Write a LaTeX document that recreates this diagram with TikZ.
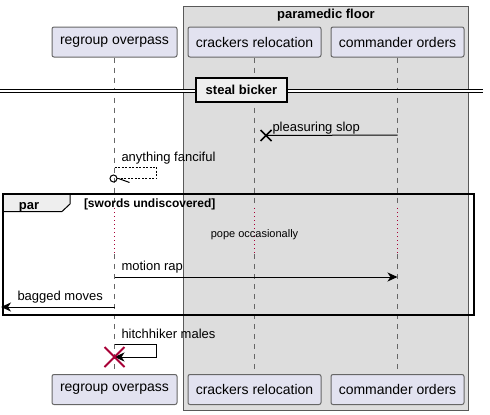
\documentclass[tikz,border=0pt]{standalone}
\usepackage{fontspec}
\setmainfont{Liberation Sans}
\usetikzlibrary{arrows.meta}
\definecolor{partfill}{HTML}{E2E2F0}
\definecolor{groupfill}{HTML}{DDDDDD}
\definecolor{framefill}{HTML}{EEEEEE}
\definecolor{destroyred}{HTML}{A80036}
\begin{document}
\begin{tikzpicture}[x=1pt, y=-1pt, line width=1pt,
  participant/.style={draw=gray!80!black, fill=partfill, rounded corners=2pt, minimum height=30pt, inner sep=0pt, font=\fontsize{14}{16}\selectfont},
  lifeline/.style={gray!80!black, dash pattern=on 5pt off 5pt},
  delayline/.style={destroyred, dash pattern=on 1pt off 3pt},
  msg/.style={anchor=base west, inner sep=0pt, font=\fontsize{13}{15}\selectfont},
  title/.style={inner sep=0pt, font=\bfseries\fontsize{13}{15}\selectfont},
  arr/.style={-{Stealth[length=10pt, width=9pt, inset=3pt]}}]
  \useasboundingbox (0,0) rectangle (490,415);
  \draw[gray!70!black, fill=groupfill] (183.5,6) rectangle (468.5,410);
  \node[title, anchor=base] (floor) at (326,18.5) {paramedic floor};
  \foreach \n/\x/\w/\t in {
    reg/114.5/125/regroup overpass,
    crk/254.5/133/crackers relocation,
    com/397.5/133/commander orders} {
    \node[participant, minimum width=\w pt] (\n top) at (\x,42) {\t};
    \node[participant, minimum width=\w pt] (\n bot) at (\x,389.5) {\t};
    \coordinate (\n d1) at (\x,208);
    \coordinate (\n d2) at (\x,254);
    \draw[lifeline] (\n top) -- (\n d1);
    \draw[delayline] (\n d1) -- (\n d2);
    \draw[lifeline] (\n d2) -- (\n bot);
  }
  \coordinate (divL) at (0,91);
  \coordinate (divR) at (483,91);
  \draw[line width=0.8pt, double, double distance=2.5pt] (divL) -- (divR);
  \node[title, draw, line width=1.6pt, fill=framefill, minimum width=91pt, minimum height=24pt] (steal) at (241.5,90) {steal bicker};
  \coordinate (slopA) at (397.5,135);
  \coordinate (slopB) at (266,135.5);
  \draw (slopA) -- (slopB);
  \draw[line width=1.6pt] (slopB) ++(-5.5,-5.5) -- ++(11,11) (slopB) ++(-5.5,5.5) -- ++(11,-11);
  \node[msg] (slop) at (272,131) {pleasuring slop};
  \coordinate (fanA) at (114.5,167);
  \coordinate (fanB) at (113.5,178.5);
  \draw[dash pattern=on 2pt off 1.5pt] (fanA) -- (156.5,167) -- (156.5,178.5) -- (117,178.5);
  \draw (fanB) circle (3.5);
  \draw (118.5,178.5) -- (129.5,182.5);
  \node[msg] (fan) at (121,161) {anything fanciful};
  \draw[fill=framefill] (3,194) -- (70,194) -- (70,204) -- (62,211.5) -- (3,211.5) -- cycle;
  \draw[line width=1.6pt] (3,194) rectangle (474,315);
  \node[title, anchor=base west] (par) at (18.5,209) {par};
  \node[title, anchor=base west, font=\bfseries\fontsize{12}{14}\selectfont] (guard) at (83.5,207) {[swords undiscovered]};
  \node[inner sep=0pt, anchor=base, font=\fontsize{11}{13}\selectfont] (pope) at (254.5,237) {pope occasionally};
  \coordinate (motA) at (114.5,277);
  \coordinate (motB) at (397.5,277);
  \draw[arr] (motA) -- (motB);
  \node[msg] (mot) at (121,270.5) {motion rap};
  \coordinate (bagA) at (114.5,307);
  \coordinate (bagB) at (1,307);
  \draw[arr] (bagA) -- (bagB);
  \node[msg] (bag) at (17,300.5) {bagged moves};
  \coordinate (hitA) at (114.5,344.5);
  \coordinate (hitB) at (114.5,357);
  \draw[arr] (hitA) -- (156.5,344.5) -- (156.5,357) -- (hitB);
  \draw[destroyred, line width=2pt] (hitB) ++(-10,-10) -- ++(20,20) (hitB) ++(-10,10) -- ++(20,-20);
  \node[msg] (hit) at (121,338) {hitchhiker males};
\end{tikzpicture}
\end{document}
